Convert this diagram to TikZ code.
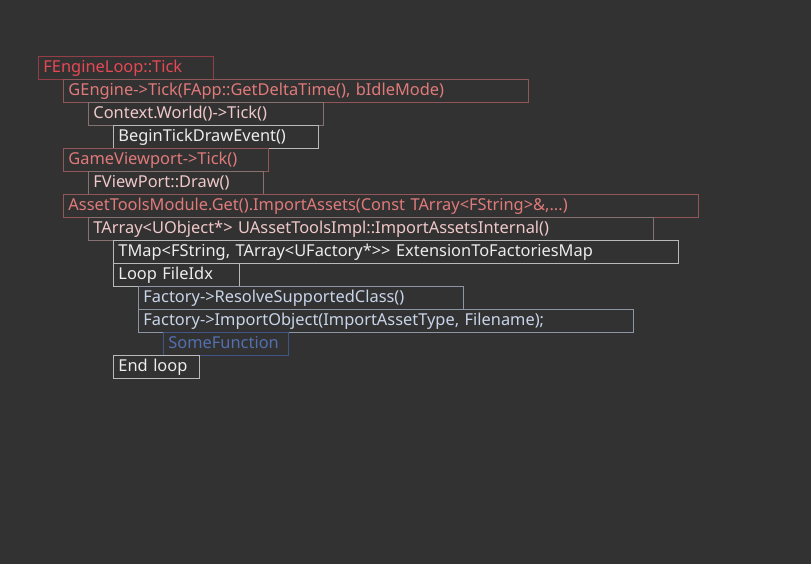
\documentclass[tikz,border=0pt]{standalone}
\usepackage{fontspec}
\setmainfont{Noto Sans}
\usepackage{xcolor}
\definecolor{bgcol}{RGB}{50,50,50}
\definecolor{tickred}{RGB}{232,72,84}
\definecolor{tickline}{RGB}{150,62,72}
\definecolor{callred}{RGB}{224,122,122}
\definecolor{callline}{RGB}{145,86,88}
\definecolor{subpink}{RGB}{240,200,200}
\definecolor{subline}{RGB}{135,112,112}
\definecolor{plaintxt}{RGB}{236,236,236}
\definecolor{plainline}{RGB}{185,185,185}
\definecolor{factxt}{RGB}{200,212,232}
\definecolor{facline}{RGB}{140,150,165}
\definecolor{fntxt}{RGB}{82,112,176}
\definecolor{fnline}{RGB}{65,85,135}

\tikzset{
  fn/.style={draw, anchor=north west, inner xsep=5pt, inner ysep=3.5pt,
    text height=12.5pt, text depth=3.5pt, align=left, line width=0.9pt,
    font=\fontsize{16.4pt}{19pt}\selectfont},
  top/.style={fn, draw=tickline, text=tickred},
  call/.style={fn, draw=callline, text=callred},
  sub/.style={fn, draw=subline, text=subpink},
  plain/.style={fn, draw=plainline, text=plaintxt},
  fac/.style={fn, draw=facline, text=factxt},
  some/.style={fn, draw=fnline, text=fntxt}
}

\begin{document}
\begin{tikzpicture}[x=1pt, y=-1pt]
  \fill [bgcol] (0, 0) rectangle (811, 564);
  \useasboundingbox (0, 0) rectangle (811, 564);

  % engine tick
  \node [top, text width=165pt] (tick) at (38, 56) {FEngineLoop::Tick};
  \node [call, text width=455pt] (gengine) at (63, 79) {GEngine->Tick(FApp::GetDeltaTime(), bIdleMode)};
  \node [sub, text width=225pt] (worldtick) at (88, 102) {Context.World()->Tick()};
  \node [plain, text width=195pt] (begindraw) at (113, 125) {BeginTickDrawEvent()};
  \node [call, text width=195pt] (viewport) at (63, 148) {GameViewport->Tick()};
  \node [sub, text width=165pt] (vpdraw) at (88, 171) {FViewPort::Draw()};

  % import assets
  \node [call, text width=625pt] (importassets) at (63, 194) {AssetToolsModule.Get().ImportAssets(Const TArray<FString>\&,...)};
  \node [sub, text width=555pt] (importinternal) at (88, 217) {TArray<UObject*> UAssetToolsImpl::ImportAssetsInternal()};
  \node [plain, text width=555pt] (extmap) at (113, 240) {TMap<FString, TArray<UFactory*>{}> ExtensionToFactoriesMap};
  \node [plain, text width=116pt] (loopidx) at (113, 263) {Loop FileIdx};
  \node [fac, text width=315pt] (resolve) at (138, 286) {Factory->ResolveSupportedClass()};
  \node [fac, text width=485pt] (importobj) at (138, 309) {Factory->ImportObject(ImportAssetType, Filename);};
  \node [some, text width=115pt] (somefn) at (163, 332) {SomeFunction};
  \node [plain, text width=76pt] (endloop) at (113, 355) {End loop};
\end{tikzpicture}
\end{document}
